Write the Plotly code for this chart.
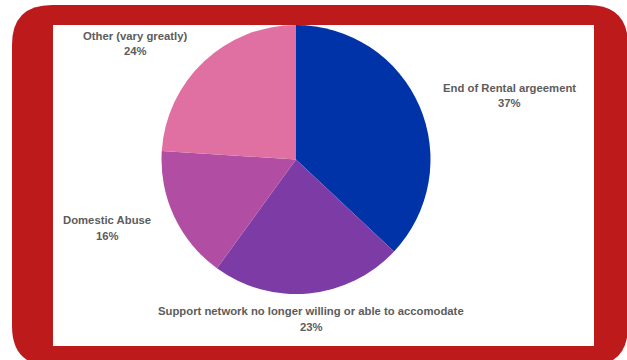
import plotly.graph_objects as go

# Reasons for homelessness (share of cases, %)
categories = [
    "End of Rental argeement",
    "Support network no longer willing or able to accomodate",
    "Domestic Abuse",
    "Other (vary greatly)",
]
shares = [37, 23, 16, 24]
slice_colors = ["#0033A8", "#7D3BA6", "#B14EA3", "#DF70A1"]

W, H = 627, 360


def px(x):
    return x / W


def py(y):
    return 1 - y / H


def rounded_rect(x0, y0, x1, y1, r):
    # path for a rounded rectangle given in pixel coordinates
    pts = [
        f"M {px(x0 + r)} {py(y0)}",
        f"L {px(x1 - r)} {py(y0)}",
        f"Q {px(x1)} {py(y0)} {px(x1)} {py(y0 + r)}",
        f"L {px(x1)} {py(y1 - r)}",
        f"Q {px(x1)} {py(y1)} {px(x1 - r)} {py(y1)}",
        f"L {px(x0 + r)} {py(y1)}",
        f"Q {px(x0)} {py(y1)} {px(x0)} {py(y1 - r)}",
        f"L {px(x0)} {py(y0 + r)}",
        f"Q {px(x0)} {py(y0)} {px(x0 + r)} {py(y0)}",
        "Z",
    ]
    return " ".join(pts)


cx, cy, rad = 296, 159.5, 134.5

fig = go.Figure(
    go.Pie(
        labels=categories,
        values=shares,
        sort=False,
        direction="clockwise",
        rotation=0,
        marker=dict(colors=slice_colors, line=dict(width=0)),
        textinfo="none",
        hoverinfo="label+percent",
        domain=dict(x=[px(cx - rad), px(cx + rad)], y=[py(cy + rad), py(cy - rad)]),
        showlegend=False,
    )
)

shapes = [
    dict(type="path", path=rounded_rect(12, 5, 628, 366, 40), xref="paper", yref="paper",
         fillcolor="#BC1A1B", line=dict(width=0), layer="below"),
    dict(type="rect", x0=px(53), x1=px(594), y0=py(346), y1=py(25), xref="paper", yref="paper",
         fillcolor="white", line=dict(width=0), layer="below"),
]

# label anchor positions (centre x, first-line y) in pixels
label_pos = [(509, 88), (311, 311), (107, 220), (135, 36)]

total = sum(shares)
annotations = []
for name, val, (lx, ly) in zip(categories, shares, label_pos):
    pct = f"{round(100 * val / total)}%"
    for text, yy in ((name, ly), (pct, ly + 15.5)):
        annotations.append(dict(
            text=f"<b>{text}</b>", x=px(lx), y=py(yy), xref="paper", yref="paper",
            xanchor="center", yanchor="middle", showarrow=False,
            font=dict(family="Liberation Sans, Arial, sans-serif", size=11.3, color="#5c5c5c"),
        ))

fig.update_layout(
    width=W, height=H,
    margin=dict(l=0, r=0, t=0, b=0),
    paper_bgcolor="white",
    plot_bgcolor="white",
    shapes=shapes,
    annotations=annotations,
)

fig.write_html("out.html")
